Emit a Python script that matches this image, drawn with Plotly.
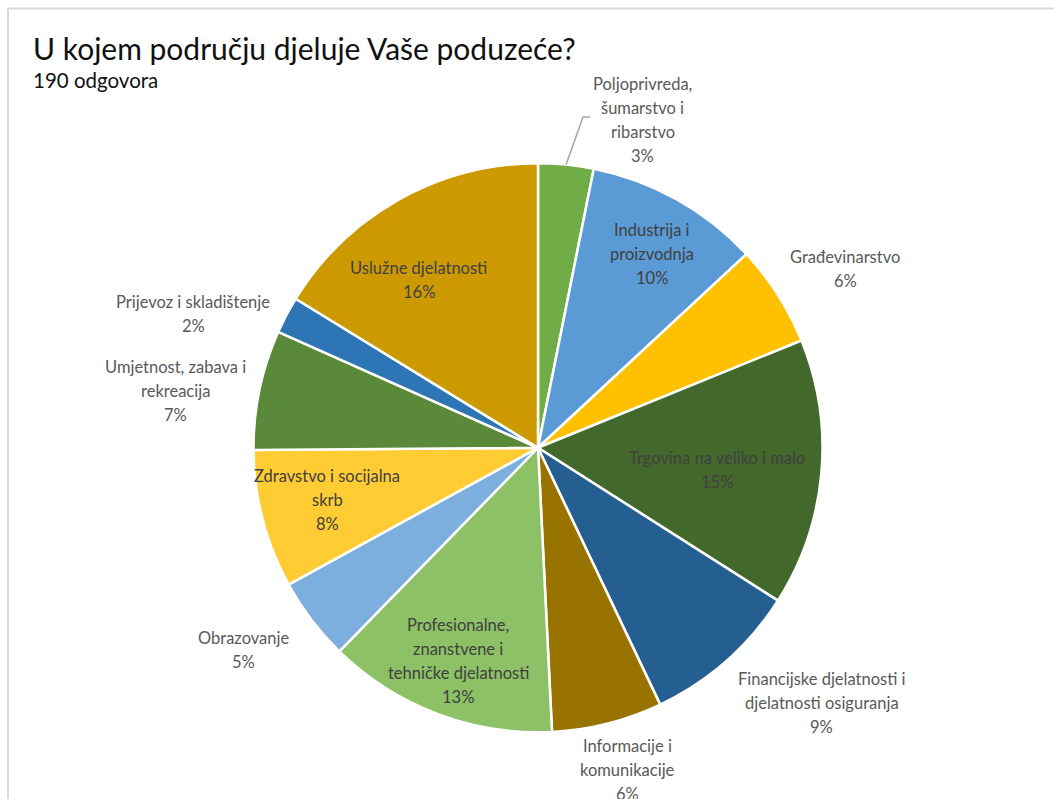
import math
import plotly.graph_objects as go

# ---- data ----
categories = [
    "Poljoprivreda, šumarstvo i ribarstvo",
    "Industrija i proizvodnja",
    "Građevinarstvo",
    "Trgovina na veliko i malo",
    "Financijske djelatnosti i djelatnosti osiguranja",
    "Informacije i komunikacije",
    "Profesionalne, znanstvene i tehničke djelatnosti",
    "Obrazovanje",
    "Zdravstvo i socijalna skrb",
    "Umjetnost, zabava i rekreacija",
    "Prijevoz i skladištenje",
    "Uslužne djelatnosti",
]
counts = [6, 19, 11, 29, 17, 12, 25, 9, 15, 13, 4, 31]
label_lines = [
    ["Poljoprivreda,", "šumarstvo i", "ribarstvo"],
    ["Industrija i", "proizvodnja"],
    ["Građevinarstvo"],
    ["Trgovina na veliko i malo"],
    ["Financijske djelatnosti i", "djelatnosti osiguranja"],
    ["Informacije i", "komunikacije"],
    ["Profesionalne,", "znanstvene i", "tehničke djelatnosti"],
    ["Obrazovanje"],
    ["Zdravstvo i socijalna", "skrb"],
    ["Umjetnost, zabava i", "rekreacija"],
    ["Prijevoz i skladištenje"],
    ["Uslužne djelatnosti"],
]
title_text = "U kojem području djeluje Vaše poduzeće?"
subtitle_text = "190 odgovora"

# ---- style ----
colors = ["#70AD47", "#5B9BD5", "#FFC000", "#43682B", "#255E91", "#997300",
          "#8DC166", "#7CAFDD", "#FFCD33", "#5A8A39", "#2E75B6", "#CC9A00"]
inside = [False, True, False, True, False, False, True, False, True, False, False, True]
# radial factor and angle nudge (deg) for each label block
label_r = [1.21, 0.79, 1.249, 0.634, 1.342, 1.176, 0.80, 1.257, 0.764, 1.288, 1.30, 0.723]
label_dang = [12.1, 1.26, 2.3, 1.91, -6.58, -1.46, -0.17, 2.8, 0.7, -2.87, -6.6, -6.14]
LINE_H = 24

W, H = 1054, 799
CX, CY, R = 538.0, 447.75, 284.5
FONT = "Lato, 'Open Sans', sans-serif"

fig = go.Figure(go.Pie(
    labels=categories,
    values=counts,
    sort=False,
    direction="clockwise",
    rotation=0,
    marker=dict(colors=colors, line=dict(color="white", width=2.5)),
    textinfo="none",
    hoverinfo="label+percent",
    showlegend=False,
    domain=dict(x=[(CX - R) / W, (CX + R) / W], y=[1 - (CY + R) / H, 1 - (CY - R) / H]),
))

total = sum(counts)
annotations = []
cum = 0
mids = []
for i, c in enumerate(counts):
    mid = (cum + c / 2) / total * 360.0
    mids.append(mid)
    cum += c
    ang = math.radians(mid + label_dang[i])
    px = CX + R * label_r[i] * math.sin(ang)
    py = CY - R * label_r[i] * math.cos(ang)
    pct = round(100 * c / total)
    lines = label_lines[i] + [f"{pct}%"]
    n = len(lines)
    for k, ln in enumerate(lines):
        ly = py + (k - (n - 1) / 2) * LINE_H
        annotations.append(dict(
            x=px / W, y=1 - ly / H, xref="paper", yref="paper",
            text=ln, showarrow=False,
            xanchor="center", yanchor="middle", align="center",
            font=dict(family=FONT, size=16.5, color="#404040" if inside[i] else "#595959"),
        ))

annotations.append(dict(x=31 / W, y=1 - 48 / H, xref="paper", yref="paper",
                        text=title_text, showarrow=False, xanchor="left", yanchor="middle",
                        font=dict(family=FONT, size=30, color="#111111")))
annotations.append(dict(x=31 / W, y=1 - 80 / H, xref="paper", yref="paper",
                        text=subtitle_text, showarrow=False, xanchor="left", yanchor="middle",
                        font=dict(family=FONT, size=20.5, color="#111111")))

# leader line for the first (outside) label
a0 = math.radians(mids[0])
sx, sy = CX + R * math.sin(a0), CY - R * math.cos(a0)
shapes = [
    dict(type="path", xref="paper", yref="paper",
         path=f"M {sx / W} {1 - sy / H} L {583 / W} {1 - 117 / H} L {590 / W} {1 - 117 / H}",
         line=dict(color="#A6A6A6", width=1.5)),
    # chart frame (top and left edges visible)
    dict(type="path", xref="paper", yref="paper",
         path=f"M {8 / W} 0 L {8 / W} {1 - 8.5 / H} L 1 {1 - 8.5 / H}",
         line=dict(color="#D9D9D9", width=2)),
]

fig.update_layout(
    width=W, height=H,
    margin=dict(l=0, r=0, t=0, b=0),
    paper_bgcolor="white", plot_bgcolor="white",
    annotations=annotations, shapes=shapes,
    font=dict(family=FONT),
)
fig.write_html("out.html")
